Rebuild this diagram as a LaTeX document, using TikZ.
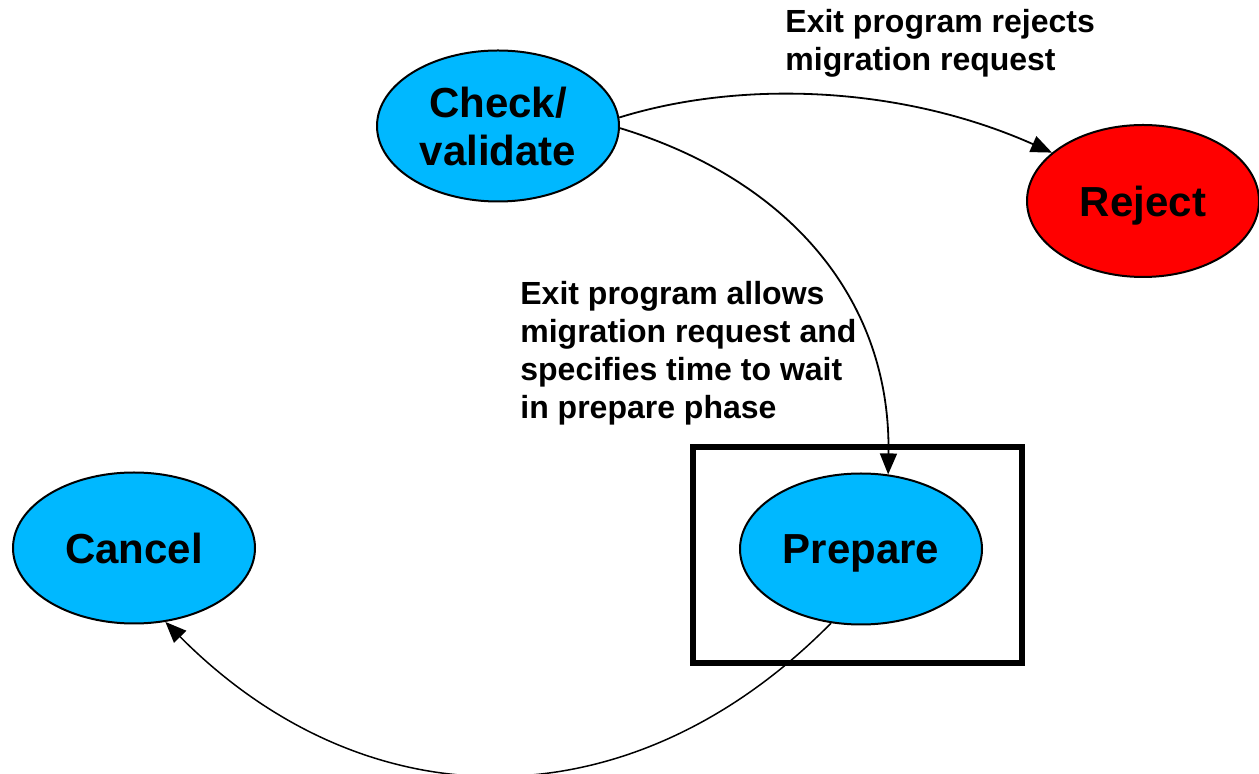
\documentclass[tikz,border=0pt]{standalone}
\usepackage{fontspec}
\setmainfont{Liberation Sans}
\usetikzlibrary{arrows.meta,shapes.geometric}

\definecolor{stateblue}{RGB}{0,184,255}
\definecolor{statered}{RGB}{255,0,0}

\tikzset{
  state/.style={ellipse, draw=black, line width=1pt, fill=stateblue,
    minimum width=121pt, minimum height=75.5pt, inner sep=0pt,
    align=center, font=\fontsize{21}{24}\selectfont\bfseries},
  oneline/.style={text depth=0pt},
  badstate/.style={state, oneline, fill=statered, minimum width=116pt, minimum height=76pt},
  phasebox/.style={draw=black, line width=3pt, minimum width=164.5pt,
    minimum height=108pt, inner sep=0pt},
  note/.style={anchor=north west, align=left, inner sep=0pt,
    font=\fontsize{16}{19}\selectfont\bfseries},
  flow/.style={line width=0.9pt, -{Triangle[length=10.5pt,width=8.5pt]}}
}

\begin{document}
\begin{tikzpicture}[x=0.5pt, y=-0.5pt]
  \useasboundingbox (0,0) rectangle (1259,774);

  % phase frame around the prepare state
  \node[phasebox] (phase) at (857.5,555) {};

  % states
  \node[state]          (check)   at (498,126)  {Check/\\validate};
  \node[badstate]       (reject)  at (1143,201) {Reject};
  \node[state, oneline] (cancel)  at (134,548)  {Cancel};
  \node[state, oneline] (prepare) at (861,549)  {Prepare};

  % transitions
  \draw[flow] (check.4) .. controls (740,80) and (900,85) .. (reject.152);
  \draw[flow] (check.-1) .. controls (790,180) and (891,300) .. (prepare.70);
  \draw[flow, line width=0.75pt] (prepare.248) .. controls (630,827) and (366,824) .. (cancel.293);

  % transition notes
  \node[note] (rejectnote) at (785,9) {Exit program rejects\\migration request};
  \node[note] (allownote) at (520,281) {Exit program allows\\migration request and\\specifies time to wait\\in prepare phase};
\end{tikzpicture}
\end{document}
